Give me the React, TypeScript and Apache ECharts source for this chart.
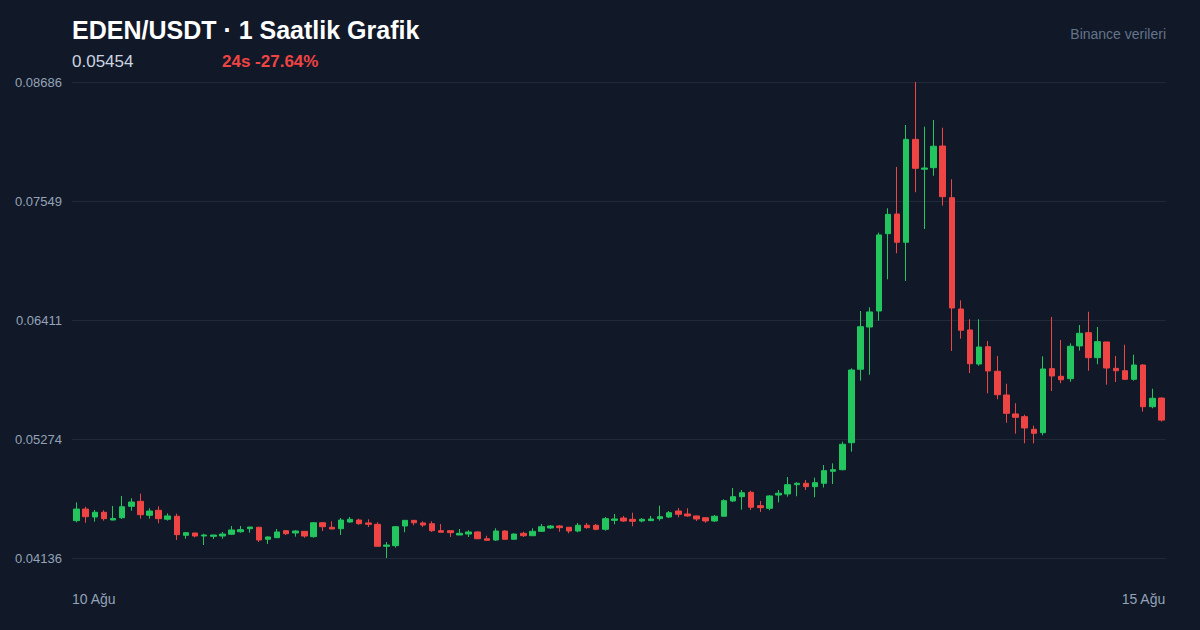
import React, { useEffect, useRef } from "react";
import * as echarts from "echarts";

const opens = [
  0.04493, 0.04604, 0.04528, 0.04573, 0.04499, 0.04521, 0.0463, 0.04678, 0.04544, 0.04592,
  0.04506, 0.04535, 0.04353, 0.04375, 0.04346, 0.04343, 0.04346, 0.04363, 0.04387, 0.04416,
  0.0443, 0.04315, 0.0433, 0.04397, 0.04375, 0.04391, 0.0434, 0.04473, 0.0443, 0.04416,
  0.0448, 0.04499, 0.04471, 0.04458, 0.04248, 0.04254, 0.04442, 0.04496, 0.04471, 0.04464,
  0.04397, 0.04397, 0.04356, 0.04365, 0.04385, 0.0432, 0.04308, 0.04394, 0.04315, 0.04372,
  0.04349, 0.04391, 0.04423, 0.04442, 0.0443, 0.04394, 0.04449, 0.04449, 0.0441, 0.04496,
  0.04518, 0.04506, 0.0449, 0.04493, 0.04512, 0.04528, 0.04585, 0.04557, 0.04538, 0.04521,
  0.0449, 0.04535, 0.04681, 0.04722, 0.04764, 0.04636, 0.04611, 0.04738, 0.04748, 0.04837,
  0.0485, 0.04818, 0.0485, 0.04965, 0.0498, 0.05238, 0.0594, 0.06344, 0.06497, 0.07236,
  0.07424, 0.07154, 0.08138, 0.07852, 0.07867, 0.08074, 0.0758, 0.06516, 0.06316, 0.0599,
  0.06156, 0.05921, 0.05694, 0.05513, 0.05487, 0.05366, 0.05334, 0.05946, 0.05873, 0.0585,
  0.06163, 0.0629, 0.06051, 0.06201, 0.05949, 0.05926, 0.05844, 0.05981, 0.05582, 0.05665,
];

const closes = [
  0.04604, 0.04531, 0.04573, 0.04512, 0.04514, 0.04626, 0.04671, 0.0455, 0.04585, 0.04512,
  0.04538, 0.04359, 0.04378, 0.04346, 0.04356, 0.04356, 0.04365, 0.04404, 0.04407, 0.04432,
  0.04308, 0.04337, 0.04385, 0.04368, 0.04394, 0.04346, 0.04473, 0.04435, 0.04413, 0.04499,
  0.04506, 0.04464, 0.04458, 0.04248, 0.0426, 0.04435, 0.04496, 0.04473, 0.04451, 0.04397,
  0.04382, 0.04378, 0.04372, 0.04385, 0.0432, 0.04305, 0.04394, 0.04315, 0.04365, 0.04349,
  0.04391, 0.04435, 0.04442, 0.04426, 0.04394, 0.04449, 0.04426, 0.0441, 0.04512, 0.04509,
  0.0449, 0.04487, 0.04506, 0.04509, 0.04531, 0.04569, 0.04554, 0.04538, 0.04509, 0.0449,
  0.04535, 0.04684, 0.04722, 0.0476, 0.04621, 0.04617, 0.04729, 0.04755, 0.04837, 0.0485,
  0.04818, 0.04856, 0.04971, 0.0498, 0.05223, 0.05933, 0.06347, 0.06488, 0.07224, 0.07421,
  0.07154, 0.08138, 0.07861, 0.07864, 0.08072, 0.0759, 0.06526, 0.06313, 0.05993, 0.06153,
  0.05924, 0.05697, 0.05519, 0.05481, 0.05379, 0.05328, 0.05943, 0.05876, 0.0584, 0.0616,
  0.06284, 0.06051, 0.06204, 0.05952, 0.05926, 0.05844, 0.05981, 0.05582, 0.05663, 0.05454,
];

const lows = [
  0.04477, 0.04473, 0.04483, 0.04493, 0.04496, 0.04509, 0.04588, 0.04512, 0.04512, 0.04468,
  0.04493, 0.04308, 0.0432, 0.04334, 0.0426, 0.04318, 0.0432, 0.04356, 0.04378, 0.04378,
  0.04289, 0.0427, 0.0433, 0.04356, 0.0434, 0.0433, 0.0433, 0.04394, 0.04413, 0.04356,
  0.04473, 0.04454, 0.04432, 0.04248, 0.04136, 0.04235, 0.04382, 0.04449, 0.04432, 0.04385,
  0.04382, 0.04337, 0.04356, 0.04337, 0.04318, 0.04305, 0.04299, 0.04315, 0.04315, 0.04337,
  0.04349, 0.04385, 0.04413, 0.04387, 0.04372, 0.04382, 0.04416, 0.04401, 0.04397, 0.04458,
  0.0448, 0.04439, 0.04477, 0.04493, 0.04493, 0.04518, 0.04525, 0.04531, 0.0449, 0.04473,
  0.0448, 0.04531, 0.04671, 0.04598, 0.04595, 0.04576, 0.04592, 0.04668, 0.04722, 0.04726,
  0.04786, 0.04716, 0.0481, 0.04843, 0.04974, 0.05152, 0.05831, 0.05888, 0.06404, 0.068,
  0.07049, 0.06784, 0.07632, 0.07281, 0.0779, 0.07504, 0.06115, 0.06232, 0.05904, 0.05974,
  0.0571, 0.05653, 0.05429, 0.05324, 0.05232, 0.05232, 0.05309, 0.05732, 0.05806, 0.05821,
  0.06118, 0.05926, 0.05988, 0.05793, 0.05818, 0.05838, 0.05831, 0.05535, 0.05567, 0.0544,
];

const highs = [
  0.04668, 0.04626, 0.04595, 0.04592, 0.04633, 0.04729, 0.04707, 0.04751, 0.04611, 0.0463,
  0.04563, 0.0456, 0.04385, 0.04375, 0.04368, 0.04356, 0.04385, 0.04442, 0.04442, 0.04432,
  0.0443, 0.04343, 0.04413, 0.04404, 0.04401, 0.04391, 0.0448, 0.0448, 0.04487, 0.04518,
  0.04528, 0.04512, 0.04506, 0.04477, 0.04289, 0.04442, 0.04496, 0.04496, 0.04487, 0.04487,
  0.04461, 0.04397, 0.04413, 0.04401, 0.04391, 0.04349, 0.0442, 0.04401, 0.04372, 0.04387,
  0.0442, 0.04461, 0.04451, 0.04449, 0.0443, 0.04471, 0.04471, 0.04461, 0.04528, 0.04557,
  0.04538, 0.04569, 0.04518, 0.04538, 0.04636, 0.04585, 0.04614, 0.04611, 0.04538, 0.04525,
  0.04547, 0.04697, 0.04805, 0.04786, 0.04779, 0.04681, 0.04738, 0.04786, 0.0491, 0.0486,
  0.04882, 0.04904, 0.05025, 0.05041, 0.05248, 0.05949, 0.06497, 0.06532, 0.07246, 0.07479,
  0.07874, 0.08275, 0.08686, 0.08259, 0.08323, 0.08249, 0.07756, 0.06599, 0.06418, 0.06418,
  0.0621, 0.06067, 0.05802, 0.05615, 0.05506, 0.05401, 0.06064, 0.0644, 0.0622, 0.06188,
  0.06363, 0.0649, 0.06344, 0.06201, 0.06067, 0.06175, 0.06079, 0.05988, 0.05754, 0.05672,
];

const yTickLabels = ["0.04136", "0.05274", "0.06411", "0.07549", "0.08686"];
const xEdgeLabels = ["10 Ağu", "15 Ağu"];
const titleText = "EDEN/USDT · 1 Saatlik Grafik";
const lastPriceText = "0.05454";
const changeText = "24s -27.64%";
const sourceText = "Binance verileri";
const priceMin = 0.04136;
const priceMax = 0.08686;

const categories = opens.map((_, i) => `H${i}`);

export default function App() {
  const ref = useRef<HTMLDivElement>(null);
  useEffect(() => {
    document.body.style.margin = "0";
    if (!ref.current) return;
    const chart = echarts.init(ref.current, undefined, { renderer: "svg" });
    const font = "'Liberation Sans', Arial, Helvetica, sans-serif";
    const data = opens.map((o, i) => [o, closes[i], lows[i], highs[i]]);
    chart.setOption({
      animation: false,
      backgroundColor: "#111827",
      textStyle: { fontFamily: font },
      grid: { left: 72, right: 34, top: 82, bottom: 72 },
      xAxis: {
        type: "category",
        data: categories,
        boundaryGap: true,
        axisLine: { show: false },
        axisTick: { show: false },
        axisLabel: { show: false },
        splitLine: { show: false },
      },
      yAxis: [
        {
          type: "value",
          min: priceMin,
          max: priceMax,
          show: false,
          splitLine: { show: false },
        },
        {
          type: "value",
          min: 0,
          max: 4,
          interval: 1,
          position: "left",
          axisLine: { show: false },
          axisTick: { show: false },
          axisLabel: {
            formatter: (v: number) => yTickLabels[Math.round(v)],
            color: "#94a3b8",
            fontSize: 13,
            fontFamily: font,
            margin: 10,
          },
          splitLine: { lineStyle: { color: "#1f2937", width: 1 } },
        },
      ],
      series: [
        {
          type: "candlestick",
          yAxisIndex: 0,
          data,
          barWidth: 6,
          itemStyle: {
            color: "#22c55e",
            color0: "#ef4444",
            borderColor: "#22c55e",
            borderColor0: "#ef4444",
            borderWidth: 1,
          },
        },
      ],
      graphic: [
        {
          type: "text",
          left: 72,
          top: 17,
          style: { text: titleText, font: `bold 25px ${font}`, fill: "#ffffff" },
        },
        {
          type: "text",
          left: 72,
          top: 53,
          style: { text: lastPriceText, font: `17px ${font}`, fill: "#cbd5e1" },
        },
        {
          type: "text",
          left: 222,
          top: 53,
          style: { text: changeText, font: `bold 17px ${font}`, fill: "#ef4444" },
        },
        {
          type: "text",
          right: 34,
          top: 27,
          style: { text: sourceText, font: `14px ${font}`, fill: "#64748b" },
        },
        {
          type: "text",
          left: 72,
          top: 592,
          style: { text: xEdgeLabels[0], font: `14px ${font}`, fill: "#94a3b8" },
        },
        {
          type: "text",
          right: 34,
          top: 592,
          style: { text: xEdgeLabels[1], font: `14px ${font}`, fill: "#94a3b8" },
        },
      ],
    });
    return () => chart.dispose();
  }, []);
  return <div ref={ref} style={{ width: 1200, height: 630, position: "absolute", left: 0, top: 0 }} />;
}
